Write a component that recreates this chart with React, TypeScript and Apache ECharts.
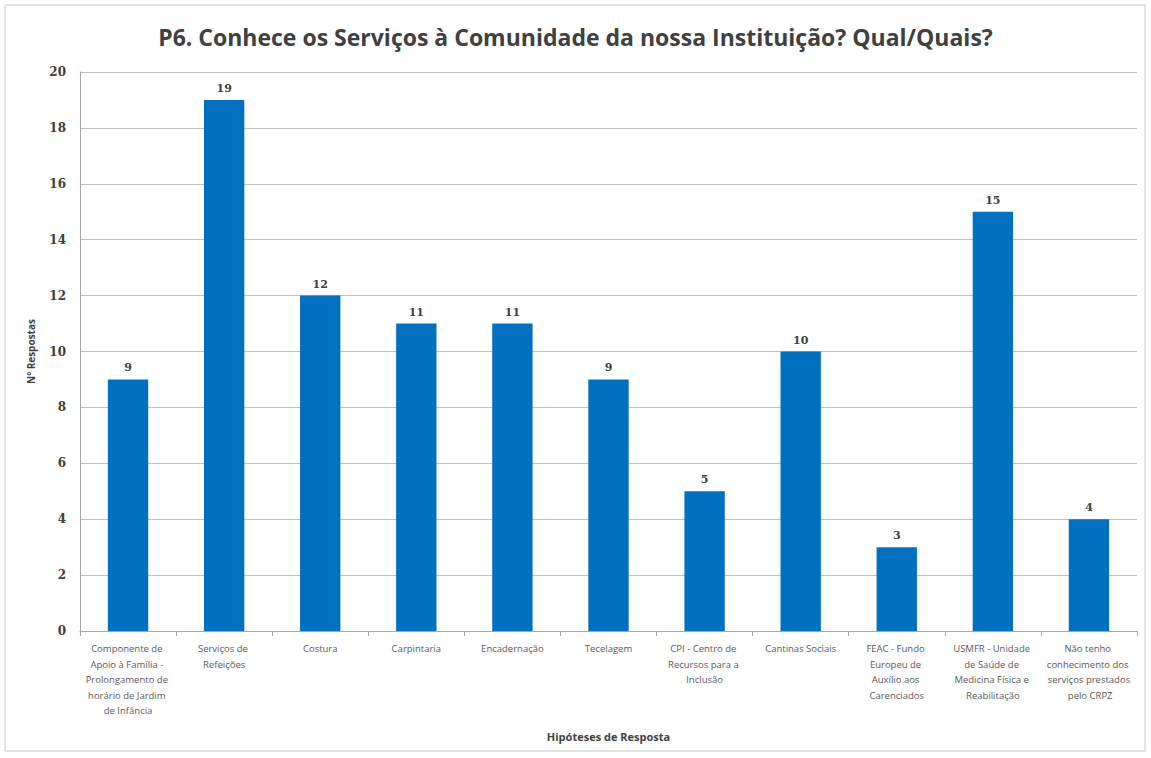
import React, { useEffect, useRef } from "react";
import * as echarts from "echarts";

const categories = [
  "Componente de Apoio à Família - Prolongamento de horário de Jardim de Infância",
  "Serviços de Refeições",
  "Costura",
  "Carpintaria",
  "Encadernação",
  "Tecelagem",
  "CPI - Centro de Recursos para a Inclusão",
  "Cantinas Sociais",
  "FEAC - Fundo Europeu de Auxílio aos Carenciados",
  "USMFR - Unidade de Saúde de Medicina Física e Reabilitação",
  "Não tenho conhecimento dos serviços prestados pelo CRPZ",
];
const values = [9, 19, 12, 11, 11, 9, 5, 10, 3, 15, 4];
const title = "P6. Conhece os Serviços à Comunidade da nossa Instituição? Qual/Quais?";
const yName = "Nº Respostas";
const xName = "Hipóteses de Resposta";

export default function App() {
  const ref = useRef<HTMLDivElement>(null);
  useEffect(() => {
    const chart = echarts.init(ref.current!, null, { renderer: "svg" });
    chart.setOption({
      animation: false,
      backgroundColor: "#ffffff",
      title: {
        text: title,
        left: "center",
        top: 20,
        textStyle: { fontFamily: "Open Sans", fontSize: 23, fontWeight: "bold", color: "#404040" },
      },
      graphic: [
        {
          type: "rect",
          shape: { x: 5, y: 5, width: 1140, height: 746 },
          style: { fill: "none", stroke: "#c8c8c8", lineWidth: 1 },
        },
      ],
      grid: { left: 80, right: 14, top: 72, bottom: 127 },
      xAxis: {
        type: "category",
        data: categories,
        name: xName,
        nameLocation: "middle",
        nameGap: 100,
        nameTextStyle: { fontFamily: "Open Sans", fontSize: 11, fontWeight: "bold", color: "#404040" },
        axisLine: { lineStyle: { color: "#a6a6a6" } },
        axisTick: { show: true, alignWithLabel: false, lineStyle: { color: "#a6a6a6" } },
        axisLabel: {
          interval: 0,
          width: 88,
          overflow: "break",
          fontFamily: "Open Sans",
          fontSize: 9.5,
          lineHeight: 15.5,
          color: "#595959",
          margin: 10,
        },
      },
      yAxis: {
        type: "value",
        min: 0,
        max: 20,
        interval: 2,
        name: yName,
        nameLocation: "middle",
        nameGap: 44,
        nameRotate: 90,
        nameTextStyle: { fontFamily: "Open Sans", fontSize: 10, fontWeight: "bold", color: "#404040" },
        axisLine: { show: true, lineStyle: { color: "#a6a6a6" } },
        axisTick: { show: false },
        splitLine: { lineStyle: { color: "#c0c0c0" } },
        axisLabel: {
          fontFamily: "DejaVu Serif",
          fontSize: 12,
          fontWeight: "bold",
          color: "#404040",
          margin: 14,
        },
      },
      series: [
        {
          type: "bar",
          data: values,
          barWidth: "42%",
          itemStyle: { color: "#0070C0" },
          label: {
            show: true,
            position: "top",
            distance: 6,
            fontFamily: "DejaVu Serif",
            fontSize: 11,
            fontWeight: "bold",
            color: "#404040",
          },
        },
      ],
    });
    return () => chart.dispose();
  }, []);
  return <div ref={ref} style={{ width: 1151, height: 758, position: "absolute", left: 0, top: 0 }} />;
}
